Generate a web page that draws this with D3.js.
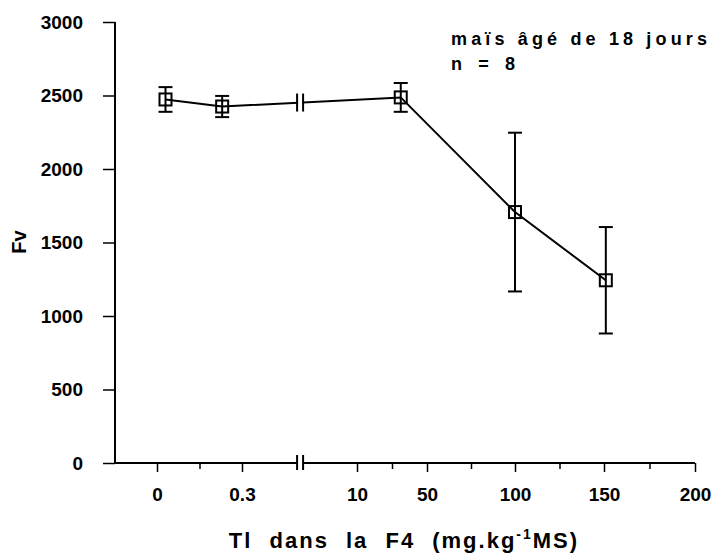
<!DOCTYPE html>
<html>
<head>
<meta charset="utf-8">
<script src="https://cdn.jsdelivr.net/npm/d3@7"></script>
<style>
  body { margin: 0; background: #fff; }
  text { font-family: "Liberation Sans", Arial, sans-serif; font-weight: bold; fill: #000; }
</style>
</head>
<body>
<div id="chart"></div>
<script>
// Tl in F4 (mg/kg MS) vs Fv, maize 18 days
var tlValues = [0.03, 0.23, 35, 100, 151];
var fvMean   = [2473, 2425, 2487, 1707, 1243];
var fvErr    = [84, 72, 98, 540, 362];

var xMajor = [0, 0.3, 10, 50, 100, 150, 200];
var xMajorLabels = ["0", "0.3", "10", "50", "100", "150", "200"];
var xMinor = [0.15, 30, 75, 125, 175];
var yTicks = [0, 500, 1000, 1500, 2000, 2500, 3000];
var breakAt = 5.2;   // where the axis is cut between 0.3 and 10

var width = 717, height = 558;
var left = 115;
var FONT = "Liberation Sans";

var svg = d3.select("#chart")
  .append("svg")
    .attr("width", width)
    .attr("height", height);

// broken x scale, piecewise
var x = d3.scaleLinear()
  .domain([0, 0.3, 10, 50, 100, 150, 200])
  .range([157, 242, 357, 427, 515, 604, 695]);

var y = d3.scaleLinear()
  .domain([0, 3000])
  .range([463, 22]);

// y axis
var yAxis = svg.append("g")
  .attr("transform", "translate(" + left + ",0)")
  .call(d3.axisLeft(y).tickValues(yTicks).tickSize(12).tickPadding(20)
          .tickFormat(d3.format("d")));
yAxis.select(".domain").attr("stroke-width", 2).attr("d", "M0," + y(3000) + "V" + y(0));
yAxis.selectAll(".tick line").attr("stroke-width", 1.5);
yAxis.selectAll(".tick text")
  .attr("font-size", "19px")
  .attr("font-family", FONT)
  .attr("font-weight", "bold");

// x axis : majors and minors, domain drawn by hand because of the break
var xAxis = svg.append("g")
  .attr("transform", "translate(0," + y(0) + ")")
  .call(d3.axisBottom(x).tickValues(xMajor).tickSize(9).tickPadding(16)
          .tickFormat(function(d, i) { return xMajorLabels[i]; }));
xAxis.select(".domain").remove();
xAxis.selectAll(".tick line").attr("stroke-width", 1.5);
xAxis.selectAll(".tick text")
  .attr("font-size", "19px")
  .attr("font-family", FONT)
  .attr("font-weight", "bold");

var xMinorAxis = svg.append("g")
  .attr("transform", "translate(0," + y(0) + ")")
  .call(d3.axisBottom(x).tickValues(xMinor).tickSize(6).tickFormat(""));
xMinorAxis.select(".domain").remove();
xMinorAxis.selectAll(".tick line").attr("stroke-width", 1.5);

var bx = x(breakAt);
svg.append("line")
  .attr("x1", left).attr("x2", bx - 3)
  .attr("y1", y(0)).attr("y2", y(0))
  .attr("stroke", "#000").attr("stroke-width", 2);
svg.append("line")
  .attr("x1", bx + 3).attr("x2", x(200))
  .attr("y1", y(0)).attr("y2", y(0))
  .attr("stroke", "#000").attr("stroke-width", 2);
[-3, 3].forEach(function(o) {
  svg.append("line")
    .attr("x1", bx + o).attr("x2", bx + o)
    .attr("y1", y(0) - 8).attr("y2", y(0) + 7)
    .attr("stroke", "#000").attr("stroke-width", 2);
});

// data
var data = tlValues.map(function(d, i) {
  return {x: d, y: fvMean[i], e: fvErr[i]};
});

var line = d3.line()
  .x(function(d) { return x(d.x); })
  .y(function(d) { return y(d.y); });

svg.append("path")
  .datum(data)
  .attr("d", line)
  .attr("fill", "none")
  .attr("stroke", "#000")
  .attr("stroke-width", 2);

// break mark on the line
var lineAtBreak = y(fvMean[1] + (fvMean[2] - fvMean[1]) * (bx - x(tlValues[1])) / (x(tlValues[2]) - x(tlValues[1])));
svg.append("rect")
  .attr("x", bx - 2).attr("y", lineAtBreak - 4)
  .attr("width", 4).attr("height", 8)
  .attr("fill", "#fff");
[-3, 3].forEach(function(o) {
  svg.append("line")
    .attr("x1", bx + o).attr("x2", bx + o)
    .attr("y1", lineAtBreak - 9).attr("y2", lineAtBreak + 9)
    .attr("stroke", "#000").attr("stroke-width", 2);
});

// error bars
var eb = svg.append("g").selectAll("g")
  .data(data)
  .enter().append("g");
eb.append("line")
  .attr("x1", function(d) { return x(d.x); })
  .attr("x2", function(d) { return x(d.x); })
  .attr("y1", function(d) { return y(d.y + d.e); })
  .attr("y2", function(d) { return y(d.y - d.e); })
  .attr("stroke", "#000").attr("stroke-width", 2);
eb.append("line")
  .attr("x1", function(d) { return x(d.x) - 7; })
  .attr("x2", function(d) { return x(d.x) + 7; })
  .attr("y1", function(d) { return y(d.y + d.e); })
  .attr("y2", function(d) { return y(d.y + d.e); })
  .attr("stroke", "#000").attr("stroke-width", 2);
eb.append("line")
  .attr("x1", function(d) { return x(d.x) - 7; })
  .attr("x2", function(d) { return x(d.x) + 7; })
  .attr("y1", function(d) { return y(d.y - d.e); })
  .attr("y2", function(d) { return y(d.y - d.e); })
  .attr("stroke", "#000").attr("stroke-width", 2);
eb.append("rect")
  .attr("x", function(d) { return x(d.x) - 6; })
  .attr("y", function(d) { return y(d.y) - 6; })
  .attr("width", 12).attr("height", 12)
  .attr("fill", "none")
  .attr("stroke", "#000").attr("stroke-width", 2);

// labels
svg.append("text")
  .attr("transform", "translate(26,242) rotate(-90)")
  .attr("text-anchor", "middle")
  .attr("font-size", "20px")
  .text("Fv");

var xt = svg.append("text")
  .attr("x", 404)
  .attr("y", 548)
  .attr("text-anchor", "middle")
  .attr("font-size", "22px")
  .attr("letter-spacing", "2px")
  .attr("word-spacing", "9px");
xt.append("tspan").text("Tl dans la F4 (mg.kg");
xt.append("tspan").attr("font-size", "14px").attr("dy", -9).text("-1");
xt.append("tspan").attr("dy", 9).text("MS)");

svg.append("text")
  .attr("x", 451).attr("y", 45)
  .attr("font-size", "18px")
  .attr("textLength", 256)
  .attr("lengthAdjust", "spacing")
  .text("maïs âgé de 18 jours");
svg.append("text")
  .attr("x", 451).attr("y", 70)
  .attr("font-size", "18px")
  .attr("textLength", 64)
  .attr("lengthAdjust", "spacing")
  .text("n = 8");
</script>
</body>
</html>
